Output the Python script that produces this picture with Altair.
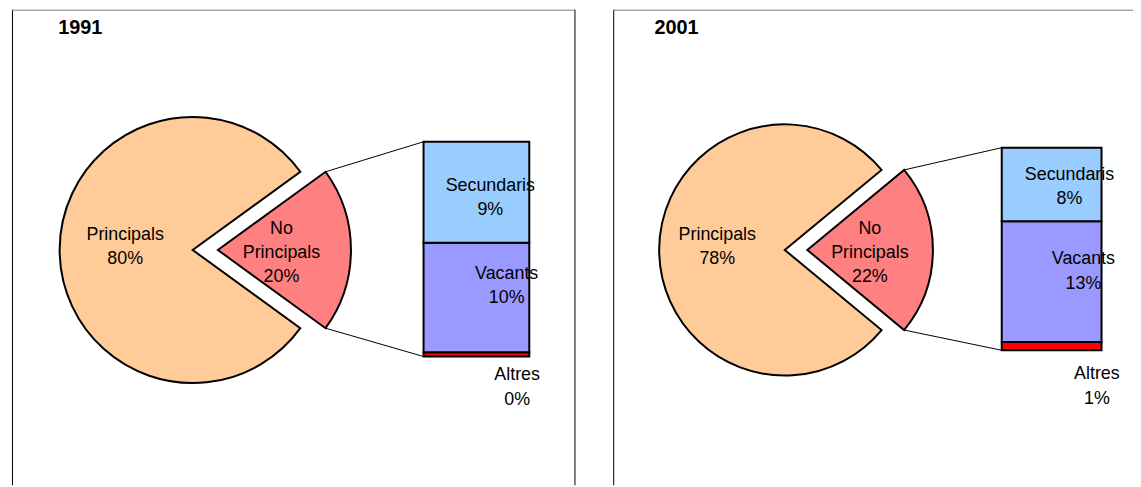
import math
import altair as alt
import pandas as pd

# ---------------- data ----------------
years = ["1991", "2001"]
pie_cats = ["Principals", "No Principals"]
pie_1991 = [80, 20]
pie_2001 = [78, 22]
bar_cats = ["Secundaris", "Vacants", "Altres"]
bar_1991 = [9.4, 10.2, 0.4]
bar_2001 = [8.0, 13.1, 0.9]

all_cats = ["Principals", "No Principals", "Secundaris", "Vacants", "Altres"]
all_colors = ["#FFCC99", "#FF8080", "#99CCFF", "#9999FF", "#FF0000"]

# ---------------- layout (pixels, chart coordinates) ----------------
FONT = "Liberation Sans"
LH = 24.5
TEXT_NUDGE = 1.5
layout = {
    "1991": dict(cx=186.0, cx_np=211.4, cy=242.0, r=134.0,
                 lab_r={"Principals": 68, "No Principals": 64},
                 bx0=418.5, bx1=525.0, btop=133.0, bbot=349.3,
                 tx=50.5, fl=4.5, fr=571.0,
                 lab_off={"Secundaris": (14, 4.5), "Vacants": (30.5, -13), "Altres": (41, 32)}),
    "2001": dict(cx=782.3, cx_np=805.0, cy=242.0, r=126.5,
                 lab_r={"Principals": 68, "No Principals": 63},
                 bx0=1000.8, bx1=1101.3, btop=139.0, bbot=343.0,
                 tx=651.0, fl=610.0, fr=None,
                 lab_off={"Secundaris": (18, 1), "Vacants": (32, -11.6), "Altres": (45.6, 39.3)}),
}
pie_dy = {"Principals": -4.5, "No Principals": 1.5}

pie_vals = {"1991": pie_1991, "2001": pie_2001}
bar_vals = {"1991": bar_1991, "2001": bar_2001}

# pie table: the "No Principals" slice is centred at 3 o'clock (25 % of the turn)
pie_rows = []
for y in years:
    vals = dict(zip(pie_cats, pie_vals[y]))
    npv = vals["No Principals"]
    spans = {"No Principals": (25 - npv / 2, 25 + npv / 2),
             "Principals": (25 + npv / 2, 125 - npv / 2)}
    for c in pie_cats:
        t0, t1 = spans[c]
        pie_rows.append(dict(year=y, cat=c, value=vals[c], t0=t0, t1=t1, mid=(t0 + t1) / 2,
                             label=c.replace(" ", "\n") + f"\n{vals[c]:.0f}%"))
pie_df = pd.DataFrame(pie_rows)

# bar table: stacked from the bottom: Altres, Vacants, Secundaris
bar_rows = []
for y in years:
    vals = dict(zip(bar_cats, bar_vals[y]))
    acc = 0.0
    for c in ["Altres", "Vacants", "Secundaris"]:
        v = vals[c]
        bar_rows.append(dict(year=y, cat=c, value=v, y0=acc, y1=acc + v, mid=acc + v / 2,
                             label=f"{c}\n{v:.0f}%"))
        acc += v
bar_df = pd.DataFrame(bar_rows)

# connector lines between exploded slice and the bar
conn_rows = []
for y in years:
    L = layout[y]
    npr = pie_df[(pie_df.year == y) & (pie_df.cat == "No Principals")].iloc[0]
    for t, by in [(npr.t0, L["btop"]), (npr.t1, L["bbot"])]:
        a = t / 100 * 2 * math.pi
        conn_rows.append(dict(year=y,
                              x1=L["cx_np"] + L["r"] * math.sin(a),
                              y1=L["cy"] - L["r"] * math.cos(a),
                              x2=L["bx0"], y2=by))
conn_df = pd.DataFrame(conn_rows)

title_df = pd.DataFrame({"year": years})

theta_scale = alt.Scale(domain=[0, 100], range=[0, 2 * math.pi], nice=False, zero=False)
color_scale = alt.Scale(domain=all_cats, range=all_colors)


def block_shift(label):
    # vega draws extra lines below the anchor; shift so the block is centred
    n = label.count("\n") + 1
    return -(n - 1) * LH / 2 + TEXT_NUDGE


layers = []
dummy = pd.DataFrame({"a": [0]})
H = 479

# frames
for y in years:
    L = layout[y]
    layers.append(alt.Chart(dummy).mark_rule(color="#000000", strokeWidth=1).encode(
        x=alt.value(L["fl"]), y=alt.value(0), y2=alt.value(H)))
    x_end = L["fr"] if L["fr"] is not None else 1133
    layers.append(alt.Chart(dummy).mark_rule(color="#808080", strokeWidth=1).encode(
        x=alt.value(L["fl"]), x2=alt.value(x_end), y=alt.value(0.5)))
    if L["fr"] is not None:
        layers.append(alt.Chart(dummy).mark_rule(color="#000000", strokeWidth=1).encode(
            x=alt.value(L["fr"]), y=alt.value(0), y2=alt.value(H)))

# connectors
layers.append(alt.Chart(conn_df).mark_rule(color="#000000", strokeWidth=1).encode(
    x=alt.X("x1:Q", scale=None), y=alt.Y("y1:Q", scale=None), x2="x2:Q", y2="y2:Q"))

# pies
for y in years:
    L = layout[y]
    for c in pie_cats:
        cx = L["cx"] if c == "Principals" else L["cx_np"]
        lab = pie_df[(pie_df.year == y) & (pie_df.cat == c)].iloc[0]["label"]
        base = alt.Chart(pie_df).transform_filter(
            (alt.datum.year == y) & (alt.datum.cat == c))
        layers.append(base.mark_arc(radius=L["r"], stroke="#000000", strokeWidth=2).encode(
            theta=alt.Theta("t0:Q", scale=theta_scale, stack=None),
            theta2="t1:Q",
            color=alt.Color("cat:N", scale=color_scale, legend=None),
            x=alt.value(cx), y=alt.value(L["cy"])))
        layers.append(base.mark_text(radius=L["lab_r"][c], lineBreak="\n", lineHeight=LH,
                                     font=FONT, fontSize=18, color="#000000",
                                     align="center", baseline="middle",
                                     dy=pie_dy[c] + block_shift(lab)).encode(
            theta=alt.Theta("mid:Q", scale=theta_scale, stack=None),
            text="label:N",
            x=alt.value(cx), y=alt.value(L["cy"])))

# bars
for y in years:
    L = layout[y]
    total = sum(bar_vals[y])
    yscale = alt.Scale(domain=[0, total], range=[L["bbot"], L["btop"]], nice=False, zero=False)
    layers.append(alt.Chart(bar_df).transform_filter(alt.datum.year == y).mark_rect(
        stroke="#000000", strokeWidth=2).encode(
        x=alt.value(L["bx0"]), x2=alt.value(L["bx1"]),
        y=alt.Y("y0:Q", scale=yscale, axis=None), y2="y1:Q",
        color=alt.Color("cat:N", scale=color_scale, legend=None)))
    bc = (L["bx0"] + L["bx1"]) / 2
    for c in bar_cats:
        dx, dy = L["lab_off"][c]
        lab = bar_df[(bar_df.year == y) & (bar_df.cat == c)].iloc[0]["label"]
        layers.append(alt.Chart(bar_df).transform_filter(
            (alt.datum.year == y) & (alt.datum.cat == c)).mark_text(
            lineBreak="\n", lineHeight=LH, font=FONT, fontSize=18, color="#000000",
            align="center", baseline="middle", dx=dx, dy=dy + block_shift(lab)).encode(
            x=alt.value(bc), y=alt.Y("mid:Q", scale=yscale, axis=None), text="label:N"))

# titles
for y in years:
    L = layout[y]
    layers.append(alt.Chart(title_df).transform_filter(alt.datum.year == y).mark_text(
        font=FONT, fontSize=20, fontWeight="bold", color="#000000",
        align="left", baseline="alphabetic").encode(
        x=alt.value(L["tx"]), y=alt.value(24.5), text="year:N"))

chart = alt.layer(*layers).resolve_scale(y="independent").properties(
    width=1133, height=H, autosize="none", padding=0
).configure_view(stroke=None)

chart.save("out.html", embed_options={"renderer": "svg", "actions": False})
